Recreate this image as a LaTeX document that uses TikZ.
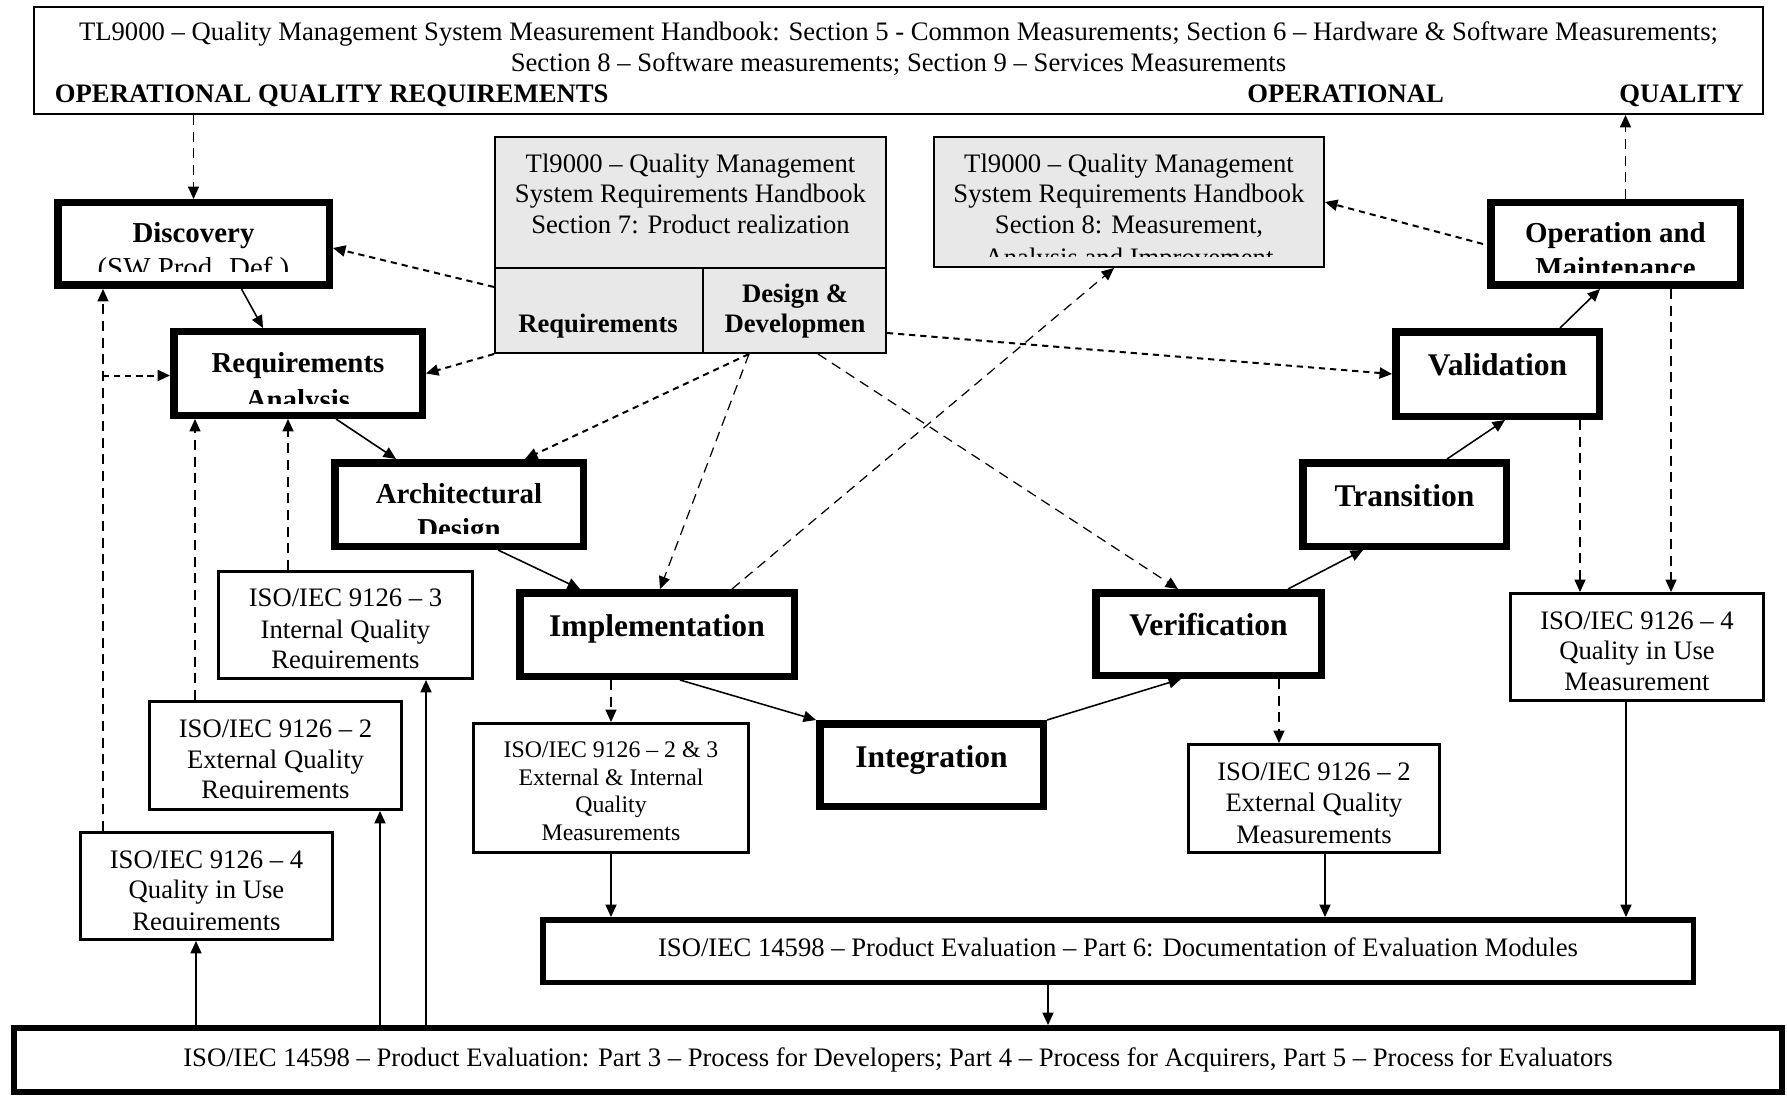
\documentclass[tikz,border=0pt]{standalone}
\usepackage{fontspec}
\setmainfont{Liberation Serif}
\usetikzlibrary{arrows.meta,calc}
\newcommand{\mybox}[7]{%
  \node[#2, inner sep=0pt, line width={(#7)*0.45pt}, minimum width={((#5)-(#3)-(#7))*0.45pt}, minimum height={((#6)-(#4)-(#7))*0.45pt}] (#1) at ({((#3)+(#5))/2},{((#4)+(#6))/2}) {};}
\newcommand{\fntN}{\fontsize{12}{13.5}\selectfont}
\newcommand{\fntB}{\fontsize{12}{13.5}\selectfont\bfseries}
\newcommand{\fntP}{\fontsize{13}{15}\selectfont\bfseries}
\newcommand{\fntR}{\fontsize{13}{15}\selectfont}
\newcommand{\fntQ}{\fontsize{14.2}{16}\selectfont\bfseries}
\newcommand{\fntS}{\fontsize{10.7}{12.5}\selectfont}
\begin{document}
\begin{tikzpicture}[x=0.45pt,y=-0.45pt,
  pbox/.style={draw,fill=white},
  ibox/.style={draw,fill=white},
  gbox/.style={draw,fill=black!9},
  txt/.style={inner sep=0pt,anchor=base},
  conn/.style={line width=0.7pt,-{Triangle[length=5.6pt,width=5pt]}},
  dl/.style={conn,line width=0.55pt,dash pattern=on 4.5pt off 3pt},
  ds/.style={conn,line width=0.9pt,dash pattern=on 2.8pt off 2.2pt}]
\fill[white] (0,0) rectangle (1787,1097);
\useasboundingbox (0,0) rectangle (1787,1097);

% boxes
\mybox{top}{ibox}{33}{6}{1764}{115}{2}
\mybox{g7}{gbox}{494}{136}{887}{354}{1.6}
\mybox{g8}{gbox}{933}{136}{1325}{268}{1.6}
\draw[line width=0.7pt] (494,268) -- (887,268) (703,268) -- (703,354);
\mybox{disc}{pbox}{54}{199}{333}{289}{7.5}
\mybox{opm}{pbox}{1487}{199}{1744}{289}{7.5}
\mybox{ra}{pbox}{170}{328}{426}{419}{7.5}
\mybox{arch}{pbox}{331}{459}{587}{550}{7.5}
\mybox{impl}{pbox}{516}{589}{798}{680}{7.5}
\mybox{valid}{pbox}{1392}{328}{1603}{420}{7.5}
\mybox{trans}{pbox}{1299}{459}{1510}{550}{7.5}
\mybox{verif}{pbox}{1092}{589}{1325}{679}{7.5}
\mybox{integ}{pbox}{816}{720}{1047}{810}{7.5}
\mybox{iso3}{ibox}{217}{570}{474}{680}{3}
\mybox{iso2l}{ibox}{148}{700}{403}{811}{3}
\mybox{iso4l}{ibox}{79}{831}{334}{941}{3}
\mybox{iso23}{ibox}{472}{722}{750}{854}{3}
\mybox{iso2r}{ibox}{1187}{743}{1441}{854}{3}
\mybox{isou4}{ibox}{1509}{592}{1765}{702}{3}
\mybox{part6}{ibox}{540}{917}{1696}{985}{5.5}
\mybox{bot}{ibox}{11}{1025}{1785}{1095}{6}

% texts: top box
\node[txt,font=\fntN] (t1) at (898.5,41) {TL9000 – Quality Management System Measurement Handbook: Section 5 - Common Measurements; Section 6 – Hardware \& Software Measurements;};
\node[txt,font=\fntN] (t2) at (898.5,72) {Section 8 – Software measurements; Section 9 – Services Measurements};
\node[txt,anchor=base west,font=\fntB] (t3) at (54.5,103) {OPERATIONAL QUALITY REQUIREMENTS};
\node[txt,anchor=base west,font=\fntB] (t4) at (1247,103) {OPERATIONAL};
\node[txt,anchor=base west,font=\fntB] (t5) at (1619,103) {QUALITY};

% gray box 7
\node[txt,font=\fntN] (g7a) at (690.5,173) {Tl9000 – Quality Management};
\node[txt,font=\fntN] (g7b) at (690.5,203) {System Requirements Handbook};
\node[txt,font=\fntN] (g7c) at (690.5,234) {Section 7: Product realization};
\node[txt,font=\fntB] (g7d) at (598,333) {Requirements};
\node[txt,font=\fntB] (g7e) at (795,303) {Design \&};
\node[txt,font=\fntB] (g7f) at (795,333) {Developmen};

% gray box 8
\node[txt,font=\fntN] (g8a) at (1129,173) {Tl9000 – Quality Management};
\node[txt,font=\fntN] (g8b) at (1129,203) {System Requirements Handbook};
\node[txt,font=\fntN] (g8c) at (1129,234) {Section 8: Measurement,};
\begin{scope}
\clip (935,240) rectangle (1323,257);
\node[txt,font=\fntN] (g8d) at (1129,266) {Analysis and Improvement};
\end{scope}

% process boxes
\node[txt,font=\fntP] (disca) at (193.5,243) {Discovery};
\begin{scope}
\clip (60,250) rectangle (327,272);
\node[txt,font=\fntR] (discb) at (193.5,278) {(SW Prod. Def.)};
\end{scope}
\node[txt,font=\fntP] (raa) at (298,372) {Requirements};
\begin{scope}
\clip (176,380) rectangle (420,403);
\node[txt,font=\fntP] (rab) at (298,409) {Analysis};
\end{scope}
\node[txt,font=\fntP] (archa) at (459,503) {Architectural};
\begin{scope}
\clip (337,510) rectangle (581,533);
\node[txt,font=\fntP] (archb) at (459,538) {Design};
\end{scope}
\node[txt,font=\fntP] (opma) at (1615.5,243) {Operation and};
\begin{scope}
\clip (1493,250) rectangle (1738,273);
\node[txt,font=\fntP] (opmb) at (1615.5,278) {Maintenance};
\end{scope}
\node[txt,font=\fntQ] (impla) at (657,636) {Implementation};
\node[txt,font=\fntQ] (verifa) at (1208.5,635) {Verification};
\node[txt,font=\fntQ] (transa) at (1404.5,506) {Transition};
\node[txt,font=\fntQ] (valida) at (1497.5,375) {Validation};
\node[txt,font=\fntQ] (intega) at (931.5,767) {Integration};

% ISO boxes
\node[txt,font=\fntN] (i3a) at (345.5,606) {ISO/IEC 9126 – 3};
\node[txt,font=\fntN] (i3b) at (345.5,638) {Internal Quality};
\begin{scope}
\clip (220,645) rectangle (471,668);
\node[txt,font=\fntN] (i3c) at (345.5,668) {Requirements};
\end{scope}
\node[txt,font=\fntN] (i2la) at (275.5,737) {ISO/IEC 9126 – 2};
\node[txt,font=\fntN] (i2lb) at (275.5,768) {External Quality};
\begin{scope}
\clip (151,775) rectangle (400,798);
\node[txt,font=\fntN] (i2lc) at (275.5,798) {Requirements};
\end{scope}
\node[txt,font=\fntN] (i4la) at (206.5,868) {ISO/IEC 9126 – 4};
\node[txt,font=\fntN] (i4lb) at (206.5,898) {Quality in Use};
\begin{scope}
\clip (82,905) rectangle (331,929);
\node[txt,font=\fntN] (i4lc) at (206.5,930) {Requirements};
\end{scope}
\node[txt,font=\fntS] (i23a) at (611,757) {ISO/IEC 9126 – 2 \& 3};
\node[txt,font=\fntS] (i23b) at (611,785) {External \& Internal};
\node[txt,font=\fntS] (i23c) at (611,812) {Quality};
\node[txt,font=\fntS] (i23d) at (611,840) {Measurements};
\node[txt,font=\fntN] (i2ra) at (1314,780) {ISO/IEC 9126 – 2};
\node[txt,font=\fntN] (i2rb) at (1314,811) {External Quality};
\node[txt,font=\fntN] (i2rc) at (1314,843) {Measurements};
\node[txt,font=\fntN] (iu4a) at (1637,629) {ISO/IEC 9126 – 4};
\node[txt,font=\fntN] (iu4b) at (1637,659) {Quality in Use};
\node[txt,font=\fntN] (iu4c) at (1637,690) {Measurement};
\node[txt,font=\fntN] (p6a) at (1118,956) {ISO/IEC 14598 – Product Evaluation – Part 6: Documentation of Evaluation Modules};
\node[txt,font=\fntN] (bota) at (898,1066) {ISO/IEC 14598 – Product Evaluation: Part 3 – Process for Developers; Part 4 – Process for Acquirers, Part 5 – Process for Evaluators};

% connectors
\draw[dl] (disc.north |- top.south) -- (disc.north);
\coordinate (p2) at ($(opm.north)+(10,0)$);
\draw[dl] (p2) -- (p2 |- top.south);
\draw[ds] ($(g7.north west)+(0,151)$) -- ($(disc.east)+(0,4)$);
\draw[ds] (g7.south west) -- (ra.east);
\draw[conn] ($(disc.south)+(48,0)$) -- ($(ra.north)+(-35,0)$);
\coordinate (p6) at ($(iso4l.north west)+(24,0)$);
\draw[dl] (p6) -- (p6 |- disc.south);
\draw[ds] ($(p6 |- ra.west)+(0,2)$) -- ($(ra.west)+(0,2)$);
\coordinate (p8) at ($(iso2l.north west)+(47,0)$);
\draw[dl] (p8) -- (p8 |- ra.south);
\coordinate (p9) at ($(iso3.north west)+(71,0)$);
\draw[dl] (p9) -- (p9 |- ra.south);
\draw[conn] ($(ra.south east)+(-90,0)$) -- ($(arch.north west)+(65,0)$);
\draw[conn] ($(arch.south)+(39,0)$) -- ($(impl.north west)+(64,0)$);
\draw[ds] ($(g7.south west)+(255,0)$) -- ($(arch.north east)+(-62,0)$);
\draw[dl] ($(g7.south west)+(255,0)$) -- ($(impl.north west)+(144,0)$);
\draw[dl] ($(g7.south west)+(324,0)$) -- ($(verif.north west)+(86,0)$);
\draw[ds] ($(g7.north east)+(0,197)$) -- (valid.west);
\draw[dl] ($(impl.north east)+(-66,0)$) -- ($(g8.south)+(-15,0)$);
\coordinate (p17) at ($(opm.south east)+(-73,0)$);
\draw[dl] (p17) -- (p17 |- isou4.north);
\coordinate (p18) at ($(valid.south east)+(-23,0)$);
\draw[dl] (p18) -- (p18 |- isou4.north);
\draw[ds] ($(opm.west)+(-4,0)$) -- (g8.east);
\draw[conn] ($(valid.north)+(62.5,0)$) -- ($(opm.south)+(-15.5,0)$);
\draw[conn] ($(trans.north)+(42.5,0)$) -- ($(valid.south)+(7.5,0)$);
\draw[conn] ($(verif.north east)+(-37,0)$) -- ($(trans.south)+(-41.5,0)$);
\draw[conn] (integ.north east) -- ($(verif.south)+(-27.5,0)$);
\draw[conn] ($(impl.south)+(23,0)$) -- (integ.north west);
\draw[dl] (iso23.north |- impl.south) -- (iso23.north);
\coordinate (p26) at ($(iso2r.north west)+(92,0)$);
\draw[dl] (p26 |- verif.south) -- (p26);
\draw[conn] (iso23.south) -- (iso23.south |- part6.north);
\coordinate (p28) at ($(iso2r.south)+(11,0)$);
\draw[conn] (p28) -- (p28 |- part6.north);
\coordinate (p29) at ($(isou4.south)+(-11,0)$);
\draw[conn] (p29) -- (p29 |- part6.north);
\coordinate (p30) at ($(part6.south)+(-70,0)$);
\draw[conn] (p30) -- (p30 |- bot.north);
\coordinate (p31) at ($(iso4l.south)+(-10.5,0)$);
\draw[conn] (p31 |- bot.north) -- (p31);
\coordinate (p32) at ($(iso2l.south east)+(-23,0)$);
\draw[conn] (p32 |- bot.north) -- (p32);
\coordinate (p33) at ($(iso3.south east)+(-48,0)$);
\draw[conn] (p33 |- bot.north) -- (p33);
\end{tikzpicture}
\end{document}
